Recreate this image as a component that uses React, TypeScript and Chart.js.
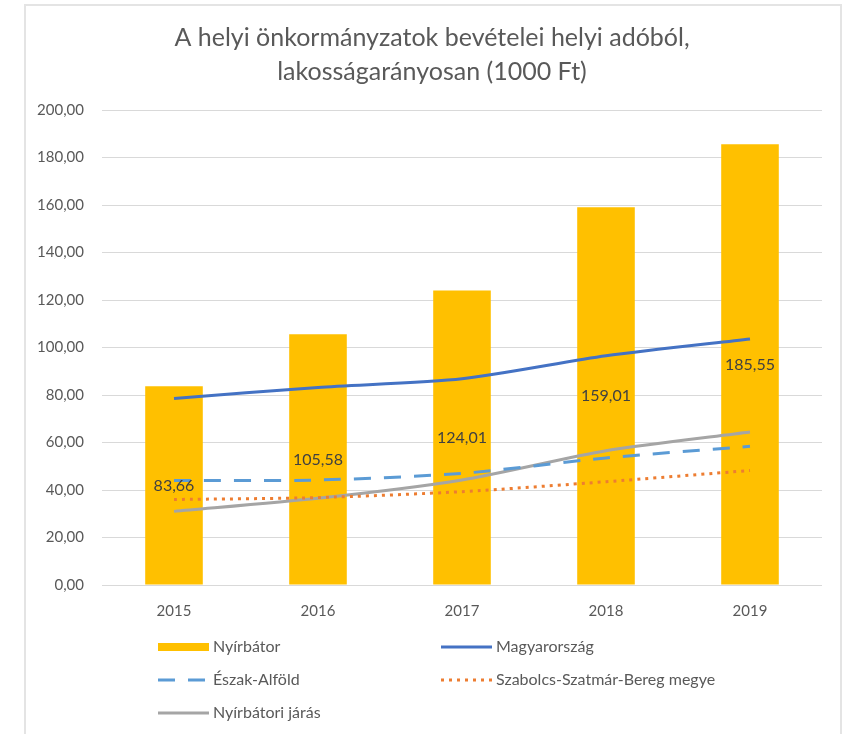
import React, { useEffect, useRef } from "react";
import { Chart, registerables } from "chart.js";

Chart.register(...registerables);

const categories = ["2015", "2016", "2017", "2018", "2019"];
const nyirbator = [83.66, 105.58, 124.01, 159.01, 185.55];
const magyarorszag = [78.5, 83.2, 86.8, 96.5, 103.6];
const eszakAlfold = [44.0, 44.2, 47.0, 53.5, 58.4];
const szabolcs = [36.0, 36.8, 39.3, 43.5, 48.2];
const nyirbatoriJaras = [31.0, 36.5, 44.2, 56.5, 64.4];
const titleLines = ["A helyi önkormányzatok bevételei helyi adóból,", "lakosságarányosan (1000 Ft)"];

const FONT = "Lato, 'Open Sans', sans-serif";
const TXT = "#595959";

const fmt = (v: number) => v.toFixed(2).replace(".", ",");

const legendItems = [
  { label: "Nyírbátor", type: "bar", color: "#FFC000", dash: [] as number[], col: 0, row: 0 },
  { label: "Magyarország", type: "line", color: "#4472C4", dash: [] as number[], col: 1, row: 0 },
  { label: "Észak-Alföld", type: "line", color: "#5B9BD5", dash: [17, 13], col: 0, row: 1 },
  { label: "Szabolcs-Szatmár-Bereg megye", type: "line", color: "#ED7D31", dash: [3, 5], col: 1, row: 1 },
  { label: "Nyírbátori járás", type: "line", color: "#A5A5A5", dash: [] as number[], col: 0, row: 2 },
];

const extrasPlugin = {
  id: "extras",
  afterDraw(chart: any) {
    const ctx = chart.ctx;
    ctx.save();
    // title
    ctx.fillStyle = TXT;
    ctx.font = `25px ${FONT}`;
    ctx.textAlign = "center";
    ctx.textBaseline = "middle";
    ctx.fillText(titleLines[0], 432, 38);
    ctx.fillText(titleLines[1], 432, 72);

    // data labels at bar centers
    const meta = chart.getDatasetMeta(0);
    const yScale = chart.scales.y;
    ctx.font = `16px ${FONT}`;
    ctx.fillStyle = "#404040";
    meta.data.forEach((el: any, i: number) => {
      const v = nyirbator[i];
      ctx.fillText(fmt(v), el.x, yScale.getPixelForValue(v / 2));
    });

    // legend
    const colX = [158, 441];
    const rowY = [647, 680, 713];
    ctx.font = `16px ${FONT}`;
    ctx.textAlign = "left";
    legendItems.forEach((it) => {
      const x = colX[it.col];
      const y = rowY[it.row];
      if (it.type === "bar") {
        ctx.fillStyle = it.color;
        ctx.fillRect(x, y - 4, 51, 8);
      } else {
        ctx.strokeStyle = it.color;
        ctx.lineWidth = 3;
        ctx.setLineDash(it.dash);
        ctx.beginPath();
        ctx.moveTo(x, y);
        ctx.lineTo(x + 51, y);
        ctx.stroke();
        ctx.setLineDash([]);
      }
      ctx.fillStyle = TXT;
      ctx.fillText(it.label, x + 55, y);
    });
    ctx.restore();
  },
};

export default function App() {
  const ref = useRef<HTMLCanvasElement>(null);
  useEffect(() => {
    if (!ref.current) return;
    const chart = new Chart(ref.current, {
      type: "bar",
      data: {
        labels: categories,
        datasets: [
          {
            type: "bar",
            label: "Nyírbátor",
            data: nyirbator,
            backgroundColor: "#FFC000",
            barPercentage: 0.4,
            categoryPercentage: 1,
            order: 10,
          },
          {
            type: "line",
            label: "Magyarország",
            data: magyarorszag,
            borderColor: "#4472C4",
            borderWidth: 3,
            pointRadius: 0,
            tension: 0.25,
            order: 1,
          },
          {
            type: "line",
            label: "Észak-Alföld",
            data: eszakAlfold,
            borderColor: "#5B9BD5",
            borderWidth: 3,
            borderDash: [17, 13],
            pointRadius: 0,
            tension: 0.25,
            order: 2,
          },
          {
            type: "line",
            label: "Szabolcs-Szatmár-Bereg megye",
            data: szabolcs,
            borderColor: "#ED7D31",
            borderWidth: 3,
            borderDash: [3, 5],
            pointRadius: 0,
            tension: 0.25,
            order: 3,
          },
          {
            type: "line",
            label: "Nyírbátori járás",
            data: nyirbatoriJaras,
            borderColor: "#A5A5A5",
            borderWidth: 3,
            pointRadius: 0,
            tension: 0.25,
            order: 4,
          },
        ] as any,
      },
      options: {
        animation: false,
        responsive: false,
        layout: { padding: { left: 30, right: 26, top: 110, bottom: 109 } },
        plugins: { legend: { display: false }, tooltip: { enabled: false } },
        scales: {
          x: {
            grid: { display: false, drawTicks: false },
            border: { display: false },
            ticks: { color: TXT, font: { family: FONT, size: 15 }, padding: 17 },
            afterFit: (s: any) => { s.height = 40; },
          },
          y: {
            min: 0,
            max: 200,
            ticks: {
              stepSize: 20,
              color: TXT,
              font: { family: FONT, size: 15 },
              padding: 18,
              callback: (v: any) => fmt(Number(v)),
            },
            grid: { color: "#D9D9D9", lineWidth: 1, drawTicks: false },
            border: { display: false },
            afterFit: (s: any) => { s.width = 72; },
          },
        },
      },
      plugins: [extrasPlugin],
    });
    return () => chart.destroy();
  }, []);
  return (
    <div style={{ position: "absolute", left: 0, top: 0, width: 848, height: 734, background: "#fff" }}>
      <div style={{ position: "absolute", left: 24, top: 4, width: 818, height: 740, border: "2px solid #E4E4E4", boxSizing: "border-box" }} />
      <canvas ref={ref} width={848} height={734} style={{ position: "absolute", left: 0, top: 0, width: 848, height: 734 }} />
    </div>
  );
}
